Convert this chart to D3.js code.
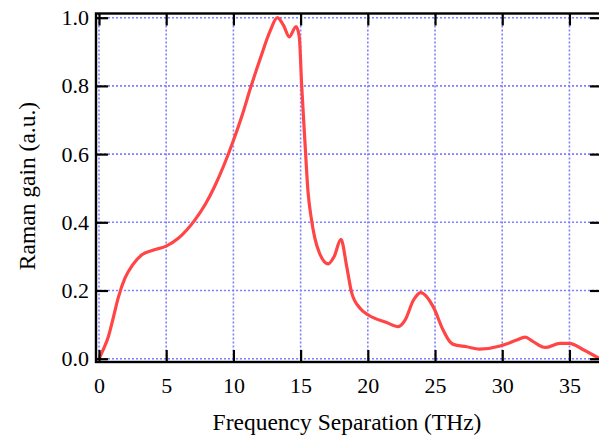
<!DOCTYPE html>
<html>
<head>
<meta charset="utf-8">
<script src="https://cdn.jsdelivr.net/npm/d3@7"></script>
<style>
  body { margin: 0; background: #fff; }
  text { font-family: "Liberation Serif", "DejaVu Serif", serif; fill: #000; }
</style>
</head>
<body>
<div id="container"></div>
<script>
// raman gain spectrum
var freq = [0, 0.3, 0.7, 1.0, 1.44, 1.93, 2.5, 3.17, 4.0, 5.0, 5.9, 7.14, 7.9, 8.6, 9.3,
            10.0, 10.74, 11.24, 11.98, 12.72, 13.27, 13.72, 14.16, 14.66, 14.9, 15.08, 15.33,
            15.55, 15.8, 16.05, 16.4, 17.06, 17.5, 18.0, 18.43, 18.8, 19.42, 20.04, 21.4,
            22.27, 22.77, 23.4, 23.93, 24.87, 25.6, 26.1, 26.36, 27.36, 28.3, 29.84, 30.3,
            31.08, 31.7, 32.3, 33.2, 34.3, 35.0, 36.0, 37.2];
var gain = [0, 0.025, 0.065, 0.11, 0.18, 0.236, 0.275, 0.304, 0.318, 0.33, 0.353, 0.407, 0.452,
            0.505, 0.568, 0.64, 0.725, 0.79, 0.878, 0.96, 1.0, 0.978, 0.944, 0.974, 0.944,
            0.80, 0.63, 0.49, 0.41, 0.355, 0.31, 0.278, 0.30, 0.35, 0.27, 0.193, 0.148, 0.128,
            0.106, 0.094, 0.113, 0.172, 0.194, 0.152, 0.084, 0.05, 0.042, 0.035, 0.028, 0.037,
            0.043, 0.055, 0.063, 0.05, 0.033, 0.045, 0.045, 0.027, 0.001];

var xTicks = [0, 5, 10, 15, 20, 25, 30, 35];
var yTicks = [0, 0.2, 0.4, 0.6, 0.8, 1.0];

var xTitle = "Frequency Separation (THz)";
var yTitle = "Raman gain (a.u.)";

var W = 599, H = 437;
// frame box (the right edge sits just past the window)
var boxL = 96, boxR = 602, boxT = 13.5, boxB = 362;

var svg = d3.select("#container").append("svg")
  .attr("width", W)
  .attr("height", H);

var x = d3.scaleLinear().domain([0, 37.4]).range([99, 601.7]);
var y = d3.scaleLinear().domain([0, 1]).range([358.7, 17.7]);

svg.append("clipPath").attr("id", "clip")
  .append("rect")
  .attr("x", boxL).attr("y", boxT)
  .attr("width", boxR - boxL).attr("height", boxB - boxT);

//*** dotted grid ***//
var grid = svg.append("g").attr("clip-path", "url(#clip)");

grid.selectAll(".gx")
  .data(xTicks)
  .enter().append("line")
  .attr("x1", function(d) { return x(d); })
  .attr("x2", function(d) { return x(d); })
  .attr("y1", boxT).attr("y2", boxB);

grid.selectAll(".gy")
  .data(yTicks)
  .enter().append("line")
  .attr("x1", boxL).attr("x2", boxR)
  .attr("y1", function(d) { return y(d); })
  .attr("y2", function(d) { return y(d); });

grid.selectAll("line")
  .attr("stroke", "#7f7fff")
  .attr("stroke-width", 1.6)
  .attr("stroke-dasharray", "2,2");

//*** gain curve ***//
var line = d3.line()
  .x(function(d, i) { return x(freq[i]); })
  .y(function(d) { return y(d); })
  .curve(d3.curveMonotoneX);

svg.append("path")
  .datum(gain)
  .attr("clip-path", "url(#clip)")
  .attr("d", line)
  .attr("fill", "none")
  .attr("stroke", "#ff4545")
  .attr("stroke-width", 3.2)
  .attr("stroke-linejoin", "round");

//*** axes, ticks pointing inward on all four sides ***//
var tickLen = 12;

svg.append("g")
  .attr("transform", "translate(0," + boxB + ")")
  .call(d3.axisBottom(x).tickValues(xTicks).tickSize(-tickLen).tickPadding(15).tickFormat(d3.format("d")));

svg.append("g")
  .attr("transform", "translate(0," + boxT + ")")
  .call(d3.axisTop(x).tickValues(xTicks).tickSize(-tickLen).tickFormat(""));

svg.append("g")
  .attr("transform", "translate(" + boxL + ",0)")
  .call(d3.axisLeft(y).tickValues(yTicks).tickSize(-tickLen).tickPadding(7).tickFormat(d3.format(".1f")));

svg.append("g")
  .attr("transform", "translate(" + boxR + ",0)")
  .call(d3.axisRight(y).tickValues(yTicks).tickSize(-tickLen).tickFormat(""));

svg.selectAll(".domain").remove();
svg.selectAll(".tick line").attr("stroke", "#000").attr("stroke-width", 2.2);
svg.selectAll(".tick text").style("font-size", "22px").attr("fill", "#000");

// frame
svg.append("rect")
  .attr("x", boxL).attr("y", boxT)
  .attr("width", boxR - boxL).attr("height", boxB - boxT)
  .attr("fill", "none")
  .attr("stroke", "#000")
  .attr("stroke-width", 2.4);

//*** titles ***//
svg.append("text")
  .attr("x", 347).attr("y", 430)
  .attr("text-anchor", "middle")
  .style("font-size", "23.5px")
  .text(xTitle);

svg.append("text")
  .attr("transform", "translate(35,186) rotate(-90)")
  .attr("text-anchor", "middle")
  .style("font-size", "23.5px")
  .text(yTitle);
</script>
</body>
</html>
